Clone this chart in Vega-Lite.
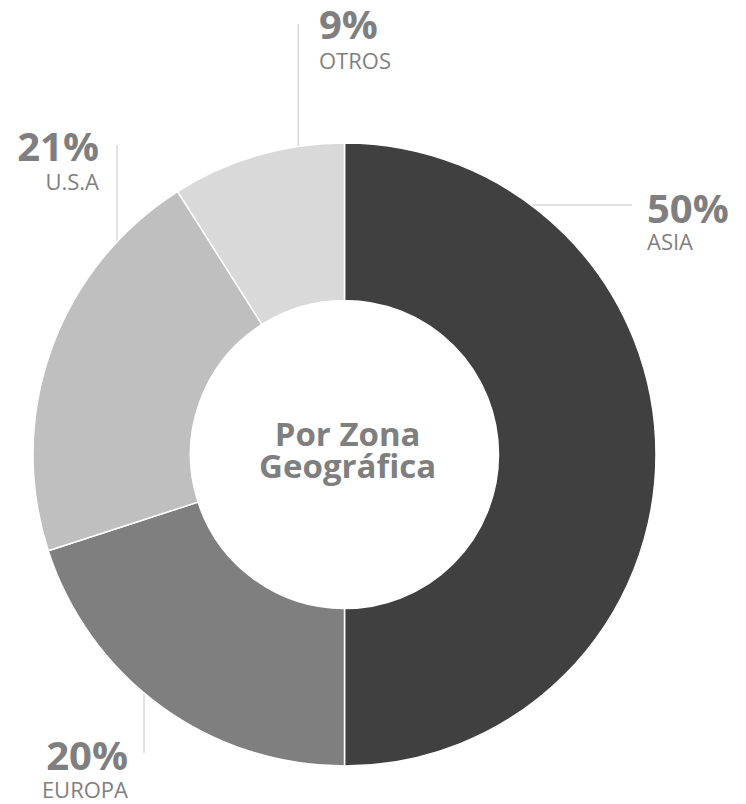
{
  "$schema": "https://vega.github.io/schema/vega-lite/v6.json",
  "width": 746,
  "height": 804,
  "padding": 0,
  "autosize": {"type": "none"},
  "background": "white",
  "config": {"view": {"stroke": null}},
  "datasets": {
    "zonas": [
      {"zona": "ASIA", "pct": 50, "orden": 1},
      {"zona": "EUROPA", "pct": 20, "orden": 2},
      {"zona": "U.S.A", "pct": 21, "orden": 3},
      {"zona": "OTROS", "pct": 9, "orden": 4}
    ],
    "etiquetas": [
      {"zona": "ASIA", "valor": "50%", "lado": "izq", "x": 0.9711, "yv": 0.7432, "yn": 0.6565},
      {"zona": "OTROS", "valor": "9%", "lado": "izq", "x": -0.0819, "yv": 1.3339, "yn": 1.2376},
      {"zona": "U.S.A", "valor": "21%", "lado": "der", "x": -0.7881, "yv": 0.9422, "yn": 0.8491},
      {"zona": "EUROPA", "valor": "20%", "lado": "der", "x": -0.6950, "yv": -1.0128, "yn": -1.1027}
    ],
    "guias": [
      {"zona": "ASIA", "x1": 0.58, "y1": 0.8010, "x2": 0.9230, "y2": 0.8010},
      {"zona": "OTROS", "x1": -0.1483, "y1": 1.3820, "x2": -0.1483, "y2": 0.98},
      {"zona": "U.S.A", "x1": -0.7303, "y1": 0.9936, "x2": -0.7303, "y2": 0.67},
      {"zona": "EUROPA", "x1": -0.6437, "y1": -0.9583, "x2": -0.6437, "y2": -0.74}
    ],
    "centro": [
      {"linea": "Por Zona", "x": 0.01, "y": 0.0273},
      {"linea": "Geográfica", "x": 0.01, "y": -0.0754}
    ]
  },
  "layer": [
    {
      "data": {"name": "guias"},
      "mark": {"type": "rule", "color": "#d9d9d9", "strokeWidth": 1.5},
      "encoding": {
        "x": {"field": "x1", "type": "quantitative", "scale": {"domain": [-1.10594, 1.28892], "nice": false, "zero": false}, "axis": null},
        "y": {"field": "y1", "type": "quantitative", "scale": {"domain": [-1.12199, 1.45907], "nice": false, "zero": false}, "axis": null},
        "x2": {"field": "x2"},
        "y2": {"field": "y2"}
      }
    },
    {
      "data": {"name": "zonas"},
      "mark": {"type": "arc", "outerRadius": 311.5, "innerRadius": 154, "stroke": "white", "strokeWidth": 1.5},
      "encoding": {
        "x": {"datum": 0, "type": "quantitative"},
        "y": {"datum": 0, "type": "quantitative"},
        "theta": {"field": "pct", "type": "quantitative", "stack": true},
        "order": {"field": "orden", "type": "quantitative", "sort": "ascending"},
        "color": {
          "field": "zona", "type": "nominal", "legend": null,
          "scale": {"domain": ["ASIA", "EUROPA", "U.S.A", "OTROS"], "range": ["#404040", "#7f7f7f", "#bfbfbf", "#d9d9d9"]}
        }
      }
    },
    {
      "data": {"name": "etiquetas"},
      "transform": [{"filter": "datum.lado === 'izq'"}],
      "layer": [
        {
          "mark": {"type": "text", "align": "left", "baseline": "alphabetic", "font": "Open Sans", "fontWeight": "bold", "fontSize": 40, "color": "#7f7f7f"},
          "encoding": {
            "x": {"field": "x", "type": "quantitative"},
            "y": {"field": "yv", "type": "quantitative"},
            "text": {"field": "valor"}
          }
        },
        {
          "mark": {"type": "text", "align": "left", "baseline": "alphabetic", "font": "Open Sans", "fontSize": 22, "color": "#7f7f7f"},
          "encoding": {
            "x": {"field": "x", "type": "quantitative"},
            "y": {"field": "yn", "type": "quantitative"},
            "text": {"field": "zona"}
          }
        }
      ]
    },
    {
      "data": {"name": "etiquetas"},
      "transform": [{"filter": "datum.lado === 'der'"}],
      "layer": [
        {
          "mark": {"type": "text", "align": "right", "baseline": "alphabetic", "font": "Open Sans", "fontWeight": "bold", "fontSize": 40, "color": "#7f7f7f"},
          "encoding": {
            "x": {"field": "x", "type": "quantitative"},
            "y": {"field": "yv", "type": "quantitative"},
            "text": {"field": "valor"}
          }
        },
        {
          "mark": {"type": "text", "align": "right", "baseline": "alphabetic", "font": "Open Sans", "fontSize": 22, "color": "#7f7f7f"},
          "encoding": {
            "x": {"field": "x", "type": "quantitative"},
            "y": {"field": "yn", "type": "quantitative"},
            "text": {"field": "zona"}
          }
        }
      ]
    },
    {
      "data": {"name": "centro"},
      "mark": {"type": "text", "align": "center", "baseline": "alphabetic", "font": "Open Sans", "fontWeight": "bold", "fontSize": 33, "color": "#7f7f7f"},
      "encoding": {
        "x": {"field": "x", "type": "quantitative"},
        "y": {"field": "y", "type": "quantitative"},
        "text": {"field": "linea"}
      }
    }
  ]
}
